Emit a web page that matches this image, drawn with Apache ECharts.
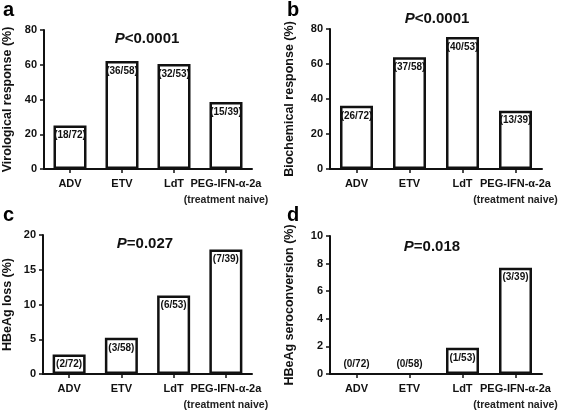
<!DOCTYPE html>
<html>
<head>
<meta charset="utf-8">
<script src="https://cdn.jsdelivr.net/npm/echarts@6/dist/echarts.min.js"></script>
<style>
html,body{margin:0;padding:0;background:#fff;}
#chart{width:567px;height:411px;}
</style>
</head>
<body>
<div id="chart"></div>
<script>
// ---- data ----
var categories = ['ADV', 'ETV', 'LdT', 'PEG-IFN-α-2a\n(treatment naive)'];

var virologicalValues = [25.0, 62.1, 60.4, 38.5];
var virologicalLabels = ['(18/72)', '(36/58)', '(32/53)', '(15/39)'];

var biochemicalValues = [36.1, 63.8, 75.5, 33.3];
var biochemicalLabels = ['(26/72)', '(37/58)', '(40/53)', '(13/39)'];

var lossValues = [2.8, 5.2, 11.3, 17.9];
var lossLabels = ['(2/72)', '(3/58)', '(6/53)', '(7/39)'];

var seroValues = [0, 0, 1.9, 7.7];
var seroLabels = ['(0/72)', '(0/58)', '(1/53)', '(3/39)'];

var panelLetters = ['a', 'b', 'c', 'd'];
var pValueTexts = ['<0.0001', '<0.0001', '=0.027', '=0.018'];
var yAxisNames = ['Virological response (%)', 'Biochemical response (%)', 'HBeAg loss (%)', 'HBeAg seroconversion (%)'];
var yTicksA = [0, 20, 40, 60, 80];
var yTicksB = [0, 20, 40, 60, 80];
var yTicksC = [0, 5, 10, 15, 20];
var yTicksD = [0, 2, 4, 6, 8, 10];

// ---- layout ----
var FONT = 'Liberation Sans, Arial, sans-serif';
var grids = [
  {left: 42, top: 30, width: 210, height: 139},
  {left: 330, top: 29, width: 212, height: 140},
  {left: 42, top: 235, width: 210, height: 140},
  {left: 330, top: 236, width: 212, height: 140}
];
var nameGaps = [30, 34, 29, 34];
var tickSets = [yTicksA, yTicksB, yTicksC, yTicksD];
var valueSets = [virologicalValues, biochemicalValues, lossValues, seroValues];
var labelSets = [virologicalLabels, biochemicalLabels, lossLabels, seroLabels];
var titlePos = [
  {x: 147, y: 39},
  {x: 437, y: 19},
  {x: 145, y: 244},
  {x: 432, y: 247}
];
var letterPos = [
  {x: 3, y: 0},
  {x: 287, y: 0},
  {x: 3, y: 205},
  {x: 287, y: 205}
];

var option = {
  backgroundColor: '#fff',
  animation: false,
  grid: grids.map(function (g) { return {left: g.left, top: g.top, width: g.width, height: g.height, containLabel: false}; }),
  title: [],
  xAxis: [],
  yAxis: [],
  series: []
};

for (var i = 0; i < 4; i++) {
  option.title.push({
    text: '{i|P}{b|' + pValueTexts[i] + '}',
    left: titlePos[i].x, top: titlePos[i].y,
    textAlign: 'center', textVerticalAlign: 'middle',
    textStyle: {
      rich: {
        i: {fontFamily: FONT, fontSize: 15, fontWeight: 'bold', fontStyle: 'italic', color: '#111'},
        b: {fontFamily: FONT, fontSize: 15, fontWeight: 'bold', color: '#111'}
      }
    },
    padding: 0
  });
  option.title.push({
    text: panelLetters[i],
    left: letterPos[i].x, top: letterPos[i].y,
    padding: 0,
    textStyle: {fontFamily: FONT, fontSize: 20, fontWeight: 'bold', color: '#000'}
  });
  var ticks = tickSets[i];
  option.xAxis.push({
    type: 'category', gridIndex: i, data: categories,
    boundaryGap: true,
    axisLine: {lineStyle: {color: '#111', width: 2}},
    axisTick: {show: true, alignWithLabel: true, length: 4, lineStyle: {color: '#111', width: 1.5}},
    axisLabel: {
      interval: 0, margin: 6,
      formatter: function (v) {
        var parts = v.split('\n');
        if (parts.length > 1) return '{m|' + parts[0] + '}\n{s|' + parts[1] + '}';
        return '{m|' + v + '}';
      },
      rich: {
        m: {fontFamily: FONT, fontSize: 11, fontWeight: 'bold', color: '#111', lineHeight: 17},
        s: {fontFamily: FONT, fontSize: 10.5, fontWeight: 'bold', color: '#222', lineHeight: 17}
      }
    }
  });
  option.yAxis.push({
    type: 'value', gridIndex: i,
    min: ticks[0], max: ticks[ticks.length - 1], interval: ticks[1] - ticks[0],
    name: yAxisNames[i], nameLocation: 'middle', nameGap: nameGaps[i], nameRotate: 90,
    nameTextStyle: {fontFamily: FONT, fontSize: 12.5, fontWeight: 'bold', color: '#111'},
    axisLine: {show: true, lineStyle: {color: '#111', width: 2}},
    axisTick: {show: true, inside: false, length: 4, lineStyle: {color: '#111', width: 1.5}},
    splitLine: {show: false},
    axisLabel: {margin: 7, fontFamily: FONT, fontSize: 11, fontWeight: 'bold', color: '#111'}
  });
  var vals = valueSets[i], labs = labelSets[i];
  option.series.push({
    type: 'bar', xAxisIndex: i, yAxisIndex: i,
    barWidth: 33,
    itemStyle: {color: '#fff', borderColor: '#111', borderWidth: 2.5},
    data: vals.map(function (v, k) {
      return {
        value: v,
        itemStyle: v === 0 ? {borderWidth: 0} : undefined,
        label: {
          show: true,
          position: v === 0 ? 'top' : 'insideTop',
          distance: v === 0 ? 5 : 5,
          formatter: labs[k],
          fontFamily: FONT, fontSize: 10, fontWeight: 'bold', color: '#111'
        }
      };
    })
  });
}

var chart = echarts.init(document.getElementById('chart'), null, {renderer: 'canvas'});
chart.setOption(option);
</script>
</body>
</html>
